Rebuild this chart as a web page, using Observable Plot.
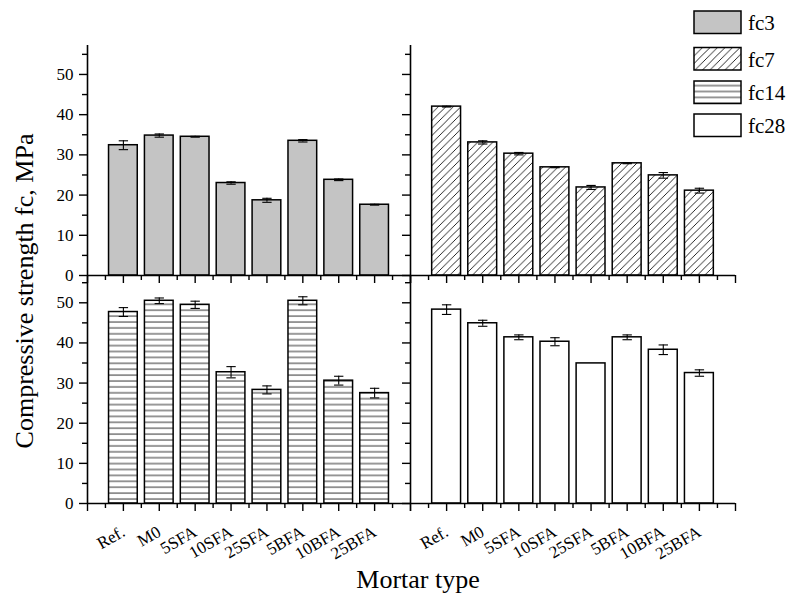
<!DOCTYPE html>
<html><head><meta charset="utf-8">
<script src="https://cdn.jsdelivr.net/npm/d3@7"></script>
<script src="https://cdn.jsdelivr.net/npm/@observablehq/plot@0.6"></script>
<style>
body{margin:0;background:#fff;}
#chart{position:relative;width:794px;height:602px;font-family:"Liberation Serif","Times New Roman",serif;}
#chart svg{position:absolute;overflow:visible;}
#chart svg text{font-family:"Liberation Serif","Times New Roman",serif;}
</style></head><body><div id="chart"></div>
<script>
const categories = ["Ref.", "M0", "5SFA", "10SFA", "25SFA", "5BFA", "10BFA", "25BFA"];
const seriesNames = ["fc3", "fc7", "fc14", "fc28"];
const fc3 = [32.4, 34.8, 34.5, 23.0, 18.7, 33.5, 23.8, 17.6];
const fc3Err = [1.1, 0.4, 0.1, 0.3, 0.5, 0.3, 0.2, 0.1];
const fc7 = [42.0, 33.1, 30.3, 26.9, 21.9, 27.9, 24.9, 21.1];
const fc7Err = [0.1, 0.4, 0.3, 0.1, 0.5, 0.1, 0.7, 0.6];
const fc14 = [47.7, 50.5, 49.5, 32.7, 28.3, 50.5, 30.6, 27.5];
const fc14Err = [1.1, 0.7, 0.9, 1.4, 1.0, 1.0, 1.1, 1.2];
const fc28 = [48.3, 44.9, 41.4, 40.3, 34.9, 41.4, 38.3, 32.5];
const fc28Err = [1.2, 0.75, 0.6, 1.0, 0, 0.6, 1.2, 0.8];
const yTicksMajor = [0, 10, 20, 30, 40, 50];
const yTicksMinor = [5, 15, 25, 35, 45, 55];
const xTitle = "Mortar type";
const yTitle = "Compressive strength fc, MPa";

const serif = "'Liberation Serif', 'Times New Roman', serif";
const chart = document.getElementById("chart");
const fills = {fc3: "#c4c4c4", fc7: "url(#p-fc7)", fc14: "url(#p-fc14)", fc28: "white"};

// pattern definitions
const defsSvg = d3.create("svg").attr("width", 0).attr("height", 0).style("left", "0px").style("top", "0px");
const defs = defsSvg.append("defs");
const p7 = defs.append("pattern").attr("id", "p-fc7").attr("patternUnits", "userSpaceOnUse").attr("width", 7.5).attr("height", 7.5);
p7.append("rect").attr("width", 7.5).attr("height", 7.5).attr("fill", "white");
p7.append("path").attr("d", "M-1,1 L1,-1 M0,7.5 L7.5,0 M6.5,8.5 L8.5,6.5").attr("stroke", "#111").attr("stroke-width", 0.9);
const p14 = defs.append("pattern").attr("id", "p-fc14").attr("patternUnits", "userSpaceOnUse").attr("width", 10).attr("height", 5.9);
p14.append("rect").attr("width", 10).attr("height", 5.9).attr("fill", "white");
p14.append("path").attr("d", "M0,3 H10").attr("stroke", "#333").attr("stroke-width", 1);
chart.appendChild(defsSvg.node());

const panels = [
  {name: "fc3", values: fc3, errs: fc3Err, left: 87, top: 45, w: 323, h: 230, yMax: 57.2, xLabels: false, yLabels: true},
  {name: "fc7", values: fc7, errs: fc7Err, left: 410, top: 45, w: 325, h: 230, yMax: 57.2, xLabels: false, yLabels: false},
  {name: "fc14", values: fc14, errs: fc14Err, left: 87, top: 275, w: 323, h: 228, yMax: 56.8, xLabels: true, yLabels: true},
  {name: "fc28", values: fc28, errs: fc28Err, left: 410, top: 275, w: 325, h: 228, yMax: 56.8, xLabels: true, yLabels: false}
];

const mL = 60, mR = 20, mT = 15, mB = 80;
const xMajor = d3.range(0, categories.length + 2);
const xMinor = d3.range(0, categories.length + 1).map(d => d + 0.5);

for (const p of panels) {
  const rows = categories.map((c, i) => ({cat: c, pos: i + 1, v: p.values[i], e: p.errs[i]}));
  const errRows = rows.filter(d => d.e > 0);
  const svg = Plot.plot({
    width: p.w + mL + mR,
    height: p.h + mT + mB,
    marginLeft: mL, marginRight: mR, marginTop: mT, marginBottom: mB,
    style: {background: "transparent", overflow: "visible", fontFamily: serif, fontSize: "17px", color: "black"},
    x: {type: "linear", domain: [0, categories.length + 1], axis: null},
    y: {domain: [0, p.yMax], axis: null},
    marks: [
      Plot.rectY(rows, {x1: d => d.pos - 0.4, x2: d => d.pos + 0.4, y: "v", fill: fills[p.name], stroke: "black", strokeWidth: 1.5}),
      Plot.ruleX(errRows, {x: "pos", y1: d => d.v - d.e, y2: d => d.v + d.e, stroke: "black", strokeWidth: 1.1}),
      Plot.link(errRows, {x1: d => d.pos - 0.13, x2: d => d.pos + 0.13, y1: d => d.v + d.e, y2: d => d.v + d.e, stroke: "black", strokeWidth: 1.1}),
      Plot.link(errRows, {x1: d => d.pos - 0.13, x2: d => d.pos + 0.13, y1: d => d.v - d.e, y2: d => d.v - d.e, stroke: "black", strokeWidth: 1.1}),
      Plot.axisY({ticks: yTicksMajor, tickSize: 8, tickPadding: 6, tickFormat: p.yLabels ? (d => String(d)) : (() => ""), label: null, strokeWidth: 1.4, fontSize: 17, fontFamily: serif}),
      Plot.axisY({ticks: yTicksMinor, tickSize: 5, tickFormat: () => "", label: null, strokeWidth: 1.4}),
      Plot.axisX({ticks: xMajor, tickSize: 8, tickPadding: 19, tickRotate: -30, tickFormat: p.xLabels ? (d => categories[d - 1] ?? "") : (() => ""), label: null, strokeWidth: 1.4, fontSize: 17, fontFamily: serif}),
      Plot.axisX({ticks: xMinor, tickSize: 5, tickFormat: () => "", label: null, strokeWidth: 1.4}),
      Plot.ruleX([0], {stroke: "black", strokeWidth: 1.6}),
      Plot.ruleY([0], {stroke: "black", strokeWidth: 1.6})
    ]
  });
  svg.style.left = (p.left - mL) + "px";
  svg.style.top = (p.top - mT) + "px";
  chart.appendChild(svg);
}

// overlay: titles and legend
const ov = d3.create("svg").attr("width", 794).attr("height", 602).style("left", "0px").style("top", "0px")
  .attr("font-family", serif);
ov.append("text").attr("transform", "translate(33,291) rotate(-90)").attr("text-anchor", "middle")
  .attr("font-family", serif).attr("font-size", 26).attr("fill", "black").text(yTitle);
ov.append("text").attr("x", 418).attr("y", 588).attr("text-anchor", "middle")
  .attr("font-family", serif).attr("font-size", 26).attr("fill", "black").text(xTitle);
const legendTops = [11, 47.5, 81, 114];
seriesNames.forEach((s, i) => {
  ov.append("rect").attr("x", 694).attr("y", legendTops[i]).attr("width", 47).attr("height", 22.5)
    .attr("fill", fills[s]).attr("stroke", "black").attr("stroke-width", 1.5);
  ov.append("text").attr("x", 748).attr("y", legendTops[i] + 19).attr("font-family", serif)
    .attr("font-size", 21).attr("fill", "black").text(s);
});
chart.appendChild(ov.node());
</script></body></html>
